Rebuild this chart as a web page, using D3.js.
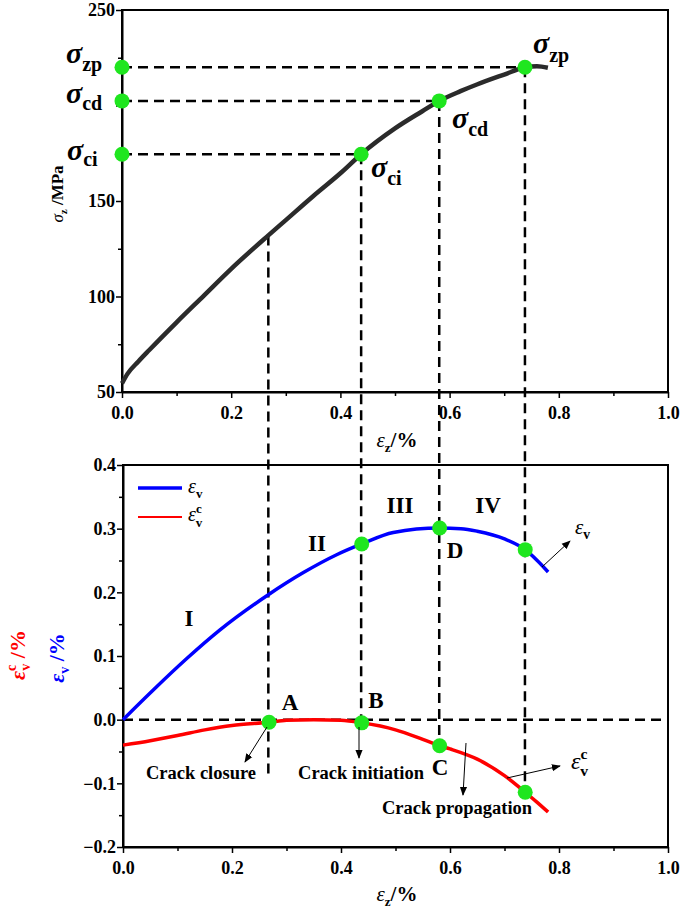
<!DOCTYPE html>
<html>
<head>
<meta charset="utf-8">
<script src="https://cdn.jsdelivr.net/npm/d3@7/dist/d3.min.js"></script>
<style>
  body { margin: 0; background: #fff; }
  text { font-family: "Liberation Serif", "Times New Roman", serif; font-weight: bold; }
</style>
</head>
<body>
<div id="vis"></div>
<script>
// axial strain vs axial stress (top panel)
const strainZ = [0, 0.01, 0.03, 0.05, 0.1, 0.15, 0.2, 0.268, 0.3, 0.35, 0.4, 0.438, 0.5, 0.55, 0.581, 0.62, 0.65, 0.7, 0.738, 0.76, 0.78];
const stress  = [54.5, 59.5, 66, 72, 86.5, 100.5, 114.5, 132, 140, 152.5, 164.5, 174.5, 188, 197, 202.4, 207.5, 211, 216.2, 220, 220.6, 219.8];

// volumetric strain (blue) and crack volumetric strain (red), bottom panel
const volX      = [0, 0.056, 0.117, 0.178, 0.268, 0.331, 0.392, 0.438, 0.496, 0.581, 0.62, 0.65, 0.7, 0.738, 0.76, 0.78];
const volStrain = [0, 0.047, 0.096, 0.141, 0.197, 0.231, 0.259, 0.276, 0.294, 0.301, 0.300, 0.296, 0.284, 0.267, 0.25, 0.232];
const crackX      = [0, 0.05, 0.1, 0.15, 0.2, 0.268, 0.3, 0.35, 0.4, 0.438, 0.5, 0.55, 0.581, 0.6, 0.65, 0.7, 0.738, 0.76, 0.78];
const crackStrain = [-0.040, -0.033, -0.025, -0.016, -0.009, -0.004, -0.001, 0, -0.001, -0.005, -0.016, -0.031, -0.041, -0.046, -0.062, -0.088, -0.114, -0.13, -0.145];

// characteristic points
const stageStrain = [0.268, 0.438, 0.581, 0.738];
const stageStress = [132, 174.5, 202.4, 220];
const stageVol    = [0.197, 0.276, 0.301, 0.267];
const stageCrack  = [-0.004, -0.005, -0.041, -0.114];

const xTicks = [0, 0.2, 0.4, 0.6, 0.8, 1.0];
const yTicksTop = [50, 100, 150, 200, 250];
const yTicksBot = [-0.2, -0.1, 0.0, 0.1, 0.2, 0.3, 0.4];

const svg = d3.select("#vis").append("svg")
  .attr("width", 685)
  .attr("height", 911);

const xTop = d3.scaleLinear().domain([0, 1]).range([122, 668]);
const yTop = d3.scaleLinear().domain([50, 250]).range([392, 10]);
const xBot = d3.scaleLinear().domain([0, 1]).range([123, 668]);
const yBot = d3.scaleLinear().domain([-0.2, 0.4]).range([847, 465]);

const green = "#1fe61f";
const dash = "10,6";

function drawAxes(x, y, yVals, yFmt, yMinor, hideY) {
  const [x0, x1] = x.range();
  const [y0, y1] = y.range();
  // frame
  svg.append("rect")
    .attr("x", x0).attr("y", y1)
    .attr("width", x1 - x0).attr("height", y0 - y1)
    .attr("fill", "none").attr("stroke", "#000").attr("stroke-width", 2);

  const gx = svg.append("g")
    .attr("transform", `translate(0,${y0})`)
    .call(d3.axisBottom(x).tickValues(xTicks).tickFormat(d3.format(".1f")).tickSize(6).tickSizeOuter(0));
  gx.select(".domain").attr("stroke-width", 2);
  gx.selectAll(".tick line").attr("stroke-width", 1.5);
  gx.selectAll("text").style("font-size", "18px").attr("dy", "1.0em");
  svg.append("g")
    .attr("transform", `translate(0,${y0})`)
    .call(d3.axisBottom(x).tickValues([0.1, 0.3, 0.5, 0.7, 0.9]).tickFormat("").tickSize(4).tickSizeOuter(0))
    .call(g => g.select(".domain").remove())
    .selectAll(".tick line").attr("stroke-width", 1.5);

  const gy = svg.append("g")
    .attr("transform", `translate(${x0},0)`)
    .call(d3.axisLeft(y).tickValues(yVals).tickFormat(d => hideY.includes(d) ? "" : yFmt(d)).tickSize(6).tickSizeOuter(0));
  gy.select(".domain").attr("stroke-width", 2);
  gy.selectAll(".tick line").attr("stroke-width", 1.5);
  gy.selectAll("text").style("font-size", "18px").attr("x", -7);
  svg.append("g")
    .attr("transform", `translate(${x0},0)`)
    .call(d3.axisLeft(y).tickValues(yMinor).tickFormat("").tickSize(4).tickSizeOuter(0))
    .call(g => g.select(".domain").remove())
    .selectAll(".tick line").attr("stroke-width", 1.5);
}

drawAxes(xTop, yTop, yTicksTop, d3.format("d"), [75, 125, 175, 225], [200]);
drawAxes(xBot, yBot, yTicksBot, d3.format(".1f"), [-0.15, -0.05, 0.05, 0.15, 0.25, 0.35], []);

// arrow marker
svg.append("defs").append("marker")
  .attr("id", "arr")
  .attr("viewBox", "0 0 10 10")
  .attr("refX", 9).attr("refY", 5)
  .attr("markerWidth", 9).attr("markerHeight", 9)
  .attr("markerUnits", "userSpaceOnUse")
  .attr("orient", "auto")
  .append("path").attr("d", "M0,1 L10,5 L0,9 Z").attr("fill", "#000");

// ---- dashed guide lines ----
const vEnds = [-0.09, -0.005, -0.035, -0.114];
stageStrain.forEach((s, i) => {
  svg.append("line")
    .attr("x1", xTop(s)).attr("x2", xTop(s))
    .attr("y1", yTop(stageStress[i])).attr("y2", yBot(vEnds[i]))
    .attr("stroke", "#000").attr("stroke-width", 2.5).attr("stroke-dasharray", dash);
});
stageStrain.slice(1).forEach((s, i) => {
  svg.append("line")
    .attr("x1", xTop(0)).attr("x2", xTop(s))
    .attr("y1", yTop(stageStress[i + 1])).attr("y2", yTop(stageStress[i + 1]))
    .attr("stroke", "#000").attr("stroke-width", 2.5).attr("stroke-dasharray", dash);
});
svg.append("line")
  .attr("x1", xBot(0)).attr("x2", xBot(1))
  .attr("y1", yBot(0)).attr("y2", yBot(0))
  .attr("stroke", "#000").attr("stroke-width", 2.5).attr("stroke-dasharray", dash);

// ---- curves ----
const stressLine = d3.line().x((d, i) => xTop(strainZ[i])).y(d => yTop(d)).curve(d3.curveMonotoneX);
svg.append("path").datum(stress)
  .attr("d", stressLine)
  .attr("fill", "none").attr("stroke", "#2b2b2b").attr("stroke-width", 4.5);

const volLine = d3.line().x((d, i) => xBot(volX[i])).y(d => yBot(d)).curve(d3.curveMonotoneX);
svg.append("path").datum(volStrain)
  .attr("d", volLine)
  .attr("fill", "none").attr("stroke", "#0000ff").attr("stroke-width", 3.5);
const crackLine = d3.line().x((d, i) => xBot(crackX[i])).y(d => yBot(d)).curve(d3.curveMonotoneX);
svg.append("path").datum(crackStrain)
  .attr("d", crackLine)
  .attr("fill", "none").attr("stroke", "#ff0000").attr("stroke-width", 3.5);

// ---- green points ----
function dot(x, y) {
  svg.append("circle").attr("cx", x).attr("cy", y).attr("r", 7.5).attr("fill", green);
}
stageStrain.slice(1).forEach((s, i) => {
  dot(xTop(0), yTop(stageStress[i + 1]));
  dot(xTop(s), yTop(stageStress[i + 1]));
  dot(xBot(s), yBot(stageVol[i + 1]));
});
stageStrain.forEach((s, i) => dot(xBot(s), yBot(stageCrack[i])));

// ---- sigma labels ----
function sigma(x, y, sub, subDy) {
  const t = svg.append("text").attr("x", x).attr("y", y);
  t.append("tspan").attr("font-size", 30).attr("font-style", "italic").text("σ");
  t.append("tspan").attr("font-size", 20).attr("dy", subDy).text(sub);
  return t;
}
sigma(66, 63, "zp", 8);
sigma(66, 103, "cd", 7);
sigma(67, 160, "ci", 6);
sigma(533, 53, "zp", 9);
sigma(452, 128, "cd", 8);
sigma(371, 177, "ci", 8);

// ---- axis titles ----
function epsZ(x, y) {
  const t = svg.append("text").attr("x", x).attr("y", y).attr("text-anchor", "middle").attr("font-size", 21);
  t.append("tspan").attr("font-style", "italic").attr("font-weight", "normal").text("ε");
  t.append("tspan").attr("font-size", 13).attr("dy", 5).text("z");
  t.append("tspan").attr("dy", -5).text("/%");
}
epsZ(397, 447);
epsZ(397, 901);

const yl = svg.append("text")
  .attr("transform", "translate(63,194) rotate(-90)")
  .attr("text-anchor", "middle").attr("font-size", 17);
yl.append("tspan").attr("font-style", "italic").attr("font-weight", "normal").text("σ");
yl.append("tspan").attr("font-size", 11).attr("dy", 4).text("z");
yl.append("tspan").attr("dy", -4).text(" /MPa");

const rl = svg.append("text")
  .attr("transform", "translate(25,655) rotate(-90)")
  .attr("text-anchor", "middle").attr("font-size", 22).attr("fill", "#ff0000");
rl.append("tspan").attr("font-style", "italic").text("ε");
rl.append("tspan").attr("font-size", 14).attr("dy", -9).text("c");
rl.append("tspan").attr("font-size", 14).attr("dx", -6).attr("dy", 14).text("v");
rl.append("tspan").attr("dy", -5).text(" /%");

const bl = svg.append("text")
  .attr("transform", "translate(64,658) rotate(-90)")
  .attr("text-anchor", "middle").attr("font-size", 22).attr("fill", "#0000ff");
bl.append("tspan").attr("font-style", "italic").text("ε");
bl.append("tspan").attr("font-size", 14).attr("dy", 5).text("v");
bl.append("tspan").attr("dy", -5).text(" /%");

// ---- legend ----
svg.append("line").attr("x1", 138).attr("x2", 182).attr("y1", 488).attr("y2", 488)
  .attr("stroke", "#0000ff").attr("stroke-width", 3.5);
svg.append("line").attr("x1", 138).attr("x2", 182).attr("y1", 517).attr("y2", 517)
  .attr("stroke", "#ff0000").attr("stroke-width", 2);

function epsV(x, y, size, withC) {
  const t = svg.append("text").attr("x", x).attr("y", y).attr("font-size", size);
  t.append("tspan").attr("font-style", "italic").attr("font-weight", "normal").text("ε");
  if (withC) {
    t.append("tspan").attr("font-size", size * 0.65).attr("dy", -size * 0.4).text("c");
    t.append("tspan").attr("font-size", size * 0.65).attr("dx", -size * 0.3).attr("dy", size * 0.7).text("v");
  } else {
    t.append("tspan").attr("font-size", size * 0.65).attr("dy", size * 0.25).text("v");
  }
}
epsV(188, 493, 20, false);
epsV(188, 521, 20, true);
epsV(575, 534, 21, false);
epsV(571, 769, 24, true);

// ---- stage / point labels ----
const bigLabels = [
  ["I", 189, 626], ["II", 317, 551], ["III", 400, 513], ["IV", 488, 513],
  ["D", 455, 558], ["A", 290, 710], ["B", 376, 708], ["C", 440, 775]
];
bigLabels.forEach(([t, x, y]) => {
  svg.append("text").attr("x", x).attr("y", y).attr("text-anchor", "middle")
    .attr("font-size", 23).text(t);
});

const crackLabels = [
  ["Crack closure", 201, 779], ["Crack initiation", 361, 779], ["Crack propagation", 457, 814]
];
crackLabels.forEach(([t, x, y]) => {
  svg.append("text").attr("x", x).attr("y", y).attr("text-anchor", "middle")
    .attr("font-size", 18.5).text(t);
});

// ---- arrows ----
const arrows = [
  [267, 727, 245, 762],
  [359, 727, 359, 758],
  [466, 743, 463, 795],
  [507, 778, 560, 766],
  [542, 567, 570, 541]
];
arrows.forEach(([x1, y1, x2, y2]) => {
  svg.append("line").attr("x1", x1).attr("y1", y1).attr("x2", x2).attr("y2", y2)
    .attr("stroke", "#000").attr("stroke-width", 1).attr("marker-end", "url(#arr)");
});
</script>
</body>
</html>
